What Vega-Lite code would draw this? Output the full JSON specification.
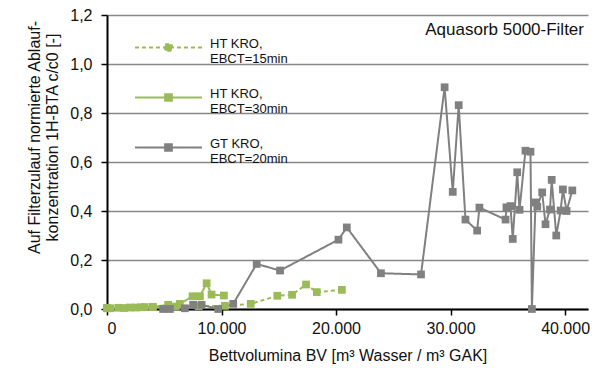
{
  "$schema": "https://vega.github.io/schema/vega-lite/v6.json",
  "width": 481,
  "height": 294,
  "autosize": {"type": "none"},
  "padding": {"left": 107, "top": 15, "right": 18, "bottom": 62},
  "background": "white",
  "config": {
    "view": {"stroke": null},
    "font": "Liberation Sans",
    "axis": {"labelFont": "Liberation Sans", "titleFont": "Liberation Sans", "labelColor": "#111", "titleColor": "#111", "titleFontWeight": "normal"}
  },
  "title": {
    "text": "Aquasorb 5000-Filter",
    "anchor": "end",
    "orient": "top",
    "frame": "group",
    "font": "Liberation Sans",
    "fontSize": 17,
    "fontWeight": "normal",
    "color": "#111",
    "dy": 36,
    "dx": -4
  },
  "data": {
    "values": [
      {"s": "HT KRO, EBCT=15min", "bv": 0, "c": 0.005},
      {"s": "HT KRO, EBCT=15min", "bv": 1000, "c": 0.005},
      {"s": "HT KRO, EBCT=15min", "bv": 2000, "c": 0.006},
      {"s": "HT KRO, EBCT=15min", "bv": 3000, "c": 0.007},
      {"s": "HT KRO, EBCT=15min", "bv": 4000, "c": 0.008},
      {"s": "HT KRO, EBCT=15min", "bv": 6000, "c": 0.01},
      {"s": "HT KRO, EBCT=15min", "bv": 8000, "c": 0.012},
      {"s": "HT KRO, EBCT=15min", "bv": 10300, "c": 0.013},
      {"s": "HT KRO, EBCT=15min", "bv": 12550, "c": 0.021},
      {"s": "HT KRO, EBCT=15min", "bv": 14870, "c": 0.054},
      {"s": "HT KRO, EBCT=15min", "bv": 16160, "c": 0.058},
      {"s": "HT KRO, EBCT=15min", "bv": 17380, "c": 0.1},
      {"s": "HT KRO, EBCT=15min", "bv": 18320, "c": 0.069},
      {"s": "HT KRO, EBCT=15min", "bv": 20510, "c": 0.078},
      {"s": "HT KRO, EBCT=30min", "bv": 0, "c": 0.003},
      {"s": "HT KRO, EBCT=30min", "bv": 300, "c": 0.003},
      {"s": "HT KRO, EBCT=30min", "bv": 1500, "c": 0.004},
      {"s": "HT KRO, EBCT=30min", "bv": 2500, "c": 0.006},
      {"s": "HT KRO, EBCT=30min", "bv": 3300, "c": 0.008},
      {"s": "HT KRO, EBCT=30min", "bv": 4000, "c": 0.009},
      {"s": "HT KRO, EBCT=30min", "bv": 5340, "c": 0.017},
      {"s": "HT KRO, EBCT=30min", "bv": 6360, "c": 0.021},
      {"s": "HT KRO, EBCT=30min", "bv": 7470, "c": 0.052},
      {"s": "HT KRO, EBCT=30min", "bv": 8110, "c": 0.052},
      {"s": "HT KRO, EBCT=30min", "bv": 8700, "c": 0.105},
      {"s": "HT KRO, EBCT=30min", "bv": 9130, "c": 0.059},
      {"s": "HT KRO, EBCT=30min", "bv": 10210, "c": 0.055},
      {"s": "GT KRO, EBCT=20min", "bv": 4900, "c": 0.0},
      {"s": "GT KRO, EBCT=20min", "bv": 5490, "c": 0.0},
      {"s": "GT KRO, EBCT=20min", "bv": 6800, "c": 0.003},
      {"s": "GT KRO, EBCT=20min", "bv": 7520, "c": 0.017},
      {"s": "GT KRO, EBCT=20min", "bv": 8260, "c": 0.017},
      {"s": "GT KRO, EBCT=20min", "bv": 9710, "c": 0.0},
      {"s": "GT KRO, EBCT=20min", "bv": 11020, "c": 0.021},
      {"s": "GT KRO, EBCT=20min", "bv": 13070, "c": 0.184},
      {"s": "GT KRO, EBCT=20min", "bv": 15110, "c": 0.157},
      {"s": "GT KRO, EBCT=20min", "bv": 20210, "c": 0.283},
      {"s": "GT KRO, EBCT=20min", "bv": 20940, "c": 0.333},
      {"s": "GT KRO, EBCT=20min", "bv": 23920, "c": 0.146},
      {"s": "GT KRO, EBCT=20min", "bv": 27420, "c": 0.141},
      {"s": "GT KRO, EBCT=20min", "bv": 29480, "c": 0.905},
      {"s": "GT KRO, EBCT=20min", "bv": 30190, "c": 0.478},
      {"s": "GT KRO, EBCT=20min", "bv": 30710, "c": 0.832},
      {"s": "GT KRO, EBCT=20min", "bv": 31300, "c": 0.365},
      {"s": "GT KRO, EBCT=20min", "bv": 32320, "c": 0.32},
      {"s": "GT KRO, EBCT=20min", "bv": 32520, "c": 0.414},
      {"s": "GT KRO, EBCT=20min", "bv": 34800, "c": 0.365},
      {"s": "GT KRO, EBCT=20min", "bv": 34880, "c": 0.415},
      {"s": "GT KRO, EBCT=20min", "bv": 35230, "c": 0.42},
      {"s": "GT KRO, EBCT=20min", "bv": 35430, "c": 0.286},
      {"s": "GT KRO, EBCT=20min", "bv": 35820, "c": 0.558},
      {"s": "GT KRO, EBCT=20min", "bv": 36020, "c": 0.405},
      {"s": "GT KRO, EBCT=20min", "bv": 36540, "c": 0.646},
      {"s": "GT KRO, EBCT=20min", "bv": 36980, "c": 0.642},
      {"s": "GT KRO, EBCT=20min", "bv": 37100, "c": 0.0},
      {"s": "GT KRO, EBCT=20min", "bv": 37420, "c": 0.435},
      {"s": "GT KRO, EBCT=20min", "bv": 37570, "c": 0.418},
      {"s": "GT KRO, EBCT=20min", "bv": 38000, "c": 0.476},
      {"s": "GT KRO, EBCT=20min", "bv": 38290, "c": 0.346},
      {"s": "GT KRO, EBCT=20min", "bv": 38680, "c": 0.406},
      {"s": "GT KRO, EBCT=20min", "bv": 38830, "c": 0.527},
      {"s": "GT KRO, EBCT=20min", "bv": 39230, "c": 0.3},
      {"s": "GT KRO, EBCT=20min", "bv": 39610, "c": 0.402},
      {"s": "GT KRO, EBCT=20min", "bv": 39810, "c": 0.488},
      {"s": "GT KRO, EBCT=20min", "bv": 40130, "c": 0.4},
      {"s": "GT KRO, EBCT=20min", "bv": 40630, "c": 0.484}
    ]
  },
  "mark": {
    "type": "line",
    "strokeWidth": 2,
    "point": {"shape": "square", "size": 60, "filled": true, "opacity": 1}
  },
  "encoding": {
    "x": {
      "field": "bv",
      "type": "quantitative",
      "scale": {"domain": [0, 42000], "nice": false, "zero": true},
      "axis": {
        "title": "Bettvolumina BV [m³ Wasser / m³ GAK]",
        "values": [0, 10000, 20000, 30000, 40000],
        "labelExpr": "replace(format(datum.value, ','), ',', '.')",
        "grid": false,
        "domainColor": "black",
        "domainWidth": 2,
        "tickColor": "black",
        "tickWidth": 1.5,
        "tickSize": 6,
        "labelFontSize": 16,
        "labelPadding": 5,
        "titleFontSize": 16,
        "titlePadding": 11
      }
    },
    "y": {
      "field": "c",
      "type": "quantitative",
      "scale": {"domain": [0, 1.2], "nice": false},
      "axis": {
        "title": ["Auf Filterzulauf normierte Ablauf-", "konzentration 1H-BTA c/c0 [-]"],
        "values": [0, 0.2, 0.4, 0.6, 0.8, 1.0, 1.2],
        "labelExpr": "replace(format(datum.value, '.1f'), '.', ',')",
        "grid": true,
        "gridColor": "#878787",
        "gridWidth": 1.5,
        "domainColor": "black",
        "domainWidth": 2,
        "tickColor": "black",
        "tickWidth": 1.5,
        "tickSize": 6,
        "labelFontSize": 16,
        "labelPadding": 9,
        "titleFontSize": 16,
        "titleLineHeight": 18,
        "titlePadding": 9,
        "titleY": 122
      }
    },
    "color": {
      "field": "s",
      "type": "nominal",
      "scale": {
        "domain": ["HT KRO, EBCT=15min", "HT KRO, EBCT=30min", "GT KRO, EBCT=20min"],
        "range": ["#9bbb59", "#9bbb59", "#808080"]
      },
      "legend": {
        "title": null,
        "orient": "none",
        "legendX": 52,
        "legendY": 23,
        "padding": 0,
        "symbolType": "M-4,0H4M-0.4,-0.4H0.4V0.4H-0.4Z",
        "symbolSize": 281,
        "symbolStrokeWidth": 2,
        "symbolOpacity": 1,
        "labelExpr": "[substring(datum.label, 0, 7), substring(datum.label, 8)]",
        "labelFont": "Liberation Sans",
        "labelFontSize": 13,
        "labelLineHeight": 15,
        "labelColor": "#111",
        "labelOffset": 32,
        "labelBaseline": "alphabetic",
        "rowPadding": 21
      }
    },
    "strokeDash": {
      "field": "s",
      "type": "nominal",
      "scale": {
        "domain": ["HT KRO, EBCT=15min", "HT KRO, EBCT=30min", "GT KRO, EBCT=20min"],
        "range": [[4, 3], [1, 0], [1, 0]]
      },
      "legend": null
    }
  }
}
